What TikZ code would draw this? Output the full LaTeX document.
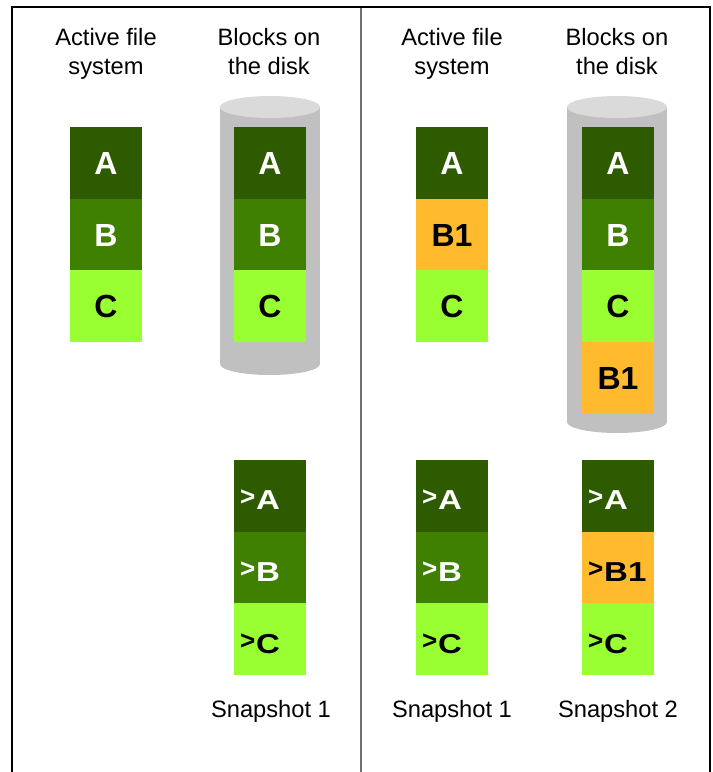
\documentclass[tikz,border=0pt]{standalone}
\usepackage{graphicx}
\usepackage{fontspec}
\setmainfont{Liberation Sans}
\definecolor{gA}{HTML}{2E5B00}
\definecolor{gB}{HTML}{408000}
\definecolor{gC}{HTML}{99FF33}
\definecolor{oB}{HTML}{FFBB2D}
\definecolor{cylbody}{HTML}{C0C0C0}
\definecolor{cyltop}{HTML}{DADADA}
\definecolor{midline}{HTML}{707070}
\tikzset{
  blk/.style={anchor=north west, minimum width=72pt, minimum height=71.7pt,
    inner sep=0pt, outer sep=0pt, text height=23.3pt, text depth=0pt,
    font=\bfseries\fontsize{32}{32}\selectfont},
  snp/.style={anchor=north west, minimum width=72pt, minimum height=71.7pt,
    inner sep=0pt, outer sep=0pt, text width=60pt, align=left,
    text height=28pt, text depth=0pt},
  dk/.style={fill=gA, text=white},
  md/.style={fill=gB, text=white},
  lt/.style={fill=gC, text=black},
  og/.style={fill=oB, text=black},
  hdr/.style={anchor=base, inner sep=0pt, font=\fontsize{23.7}{29}\selectfont},
}
\newcommand{\snaptext}[1]{{\bfseries\raisebox{4pt}{\fontsize{26}{26}\selectfont >}\hspace{1pt}\scalebox{1}[0.83]{\fontsize{33}{33}\selectfont #1}}}
\begin{document}
\begin{tikzpicture}[x=1pt,y=-1pt]
\useasboundingbox (0,0) rectangle (713,772);
% frame
\draw[line width=2.5pt, black] (12,772) -- (12,7) -- (710,7) -- (710,772);
\draw[line width=1.8pt, midline] (361,8) -- (361,772);

% headers
\node[hdr] (h1a) at (106,45.5) {Active file};
\node[hdr] (h1b) at (106,74.5) {system};
\node[hdr] (h2a) at (269,45.5) {Blocks on};
\node[hdr] (h2b) at (269,74.5) {the disk};
\node[hdr] (h3a) at (452,45.5) {Active file};
\node[hdr] (h3b) at (452,74.5) {system};
\node[hdr] (h4a) at (617,45.5) {Blocks on};
\node[hdr] (h4b) at (617,74.5) {the disk};

% cylinders
\fill[cylbody] (220,107) rectangle (320,364);
\fill[cylbody] (270,364) ellipse [x radius=50, y radius=11];
\fill[cyltop] (270,107) ellipse [x radius=50, y radius=11];
\fill[cylbody] (567,107) rectangle (667,422);
\fill[cylbody] (617,422) ellipse [x radius=50, y radius=11];
\fill[cyltop] (617,107) ellipse [x radius=50, y radius=11];

% column 1: active file system
\node[blk,dk] (a1) at (70,127) {A};
\node[blk,md] (b1) at (70,198.7) {B};
\node[blk,lt] (c1) at (70,270.4) {C};
% column 2: blocks on disk
\node[blk,dk] (a2) at (234,127) {A};
\node[blk,md] (b2) at (234,198.7) {B};
\node[blk,lt] (c2) at (234,270.4) {C};
% column 3: active file system
\node[blk,dk] (a3) at (416,127) {A};
\node[blk,og] (b3) at (416,198.7) {B1};
\node[blk,lt] (c3) at (416,270.4) {C};
% column 4: blocks on disk
\node[blk,dk] (a4) at (582,127) {A};
\node[blk,md] (b4) at (582,198.7) {B};
\node[blk,lt] (c4) at (582,270.4) {C};
\node[blk,og] (d4) at (582,342.1) {B1};

% snapshots
\node[snp,dk] (sa2) at (234,460) {\snaptext{A}};
\node[snp,md] (sb2) at (234,531.7) {\snaptext{B}};
\node[snp,lt] (sc2) at (234,603.4) {\snaptext{C}};
\node[snp,dk] (sa3) at (416,460) {\snaptext{A}};
\node[snp,md] (sb3) at (416,531.7) {\snaptext{B}};
\node[snp,lt] (sc3) at (416,603.4) {\snaptext{C}};
\node[snp,dk] (sa4) at (582,460) {\snaptext{A}};
\node[snp,og] (sb4) at (582,531.7) {\snaptext{B1}};
\node[snp,lt] (sc4) at (582,603.4) {\snaptext{C}};

% snapshot labels
\node[hdr] (s1) at (271,717) {Snapshot 1};
\node[hdr] (s2) at (452,717) {Snapshot 1};
\node[hdr] (s3) at (618,717) {Snapshot 2};
\end{tikzpicture}
\end{document}
